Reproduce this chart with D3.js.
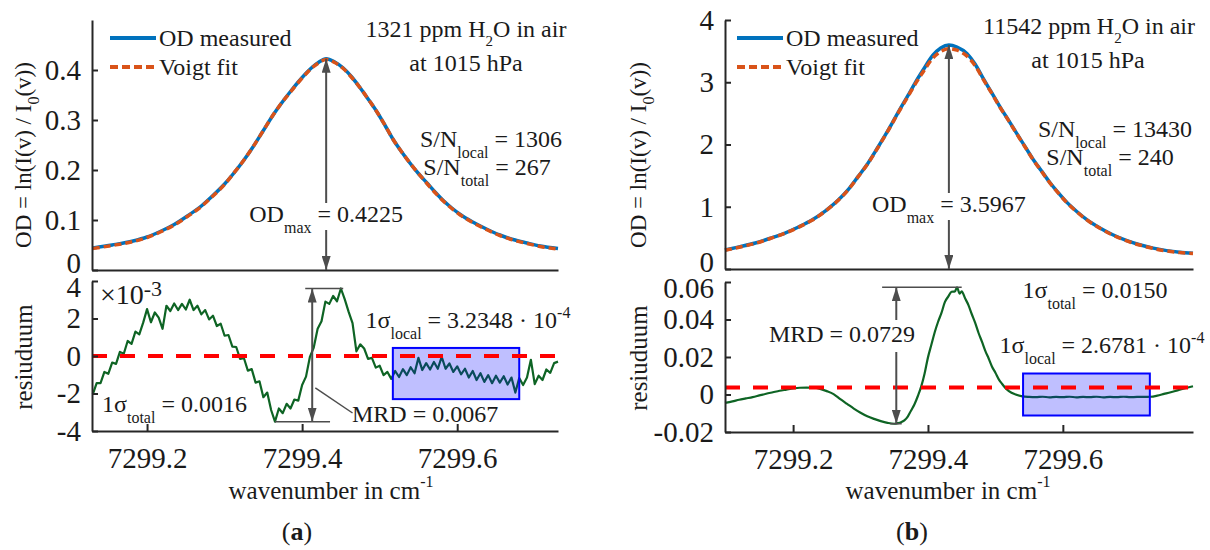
<!DOCTYPE html>
<html>
<head>
<meta charset="utf-8">
<script src="https://cdn.jsdelivr.net/npm/d3@7"></script>
<style>
body { margin: 0; background: #fff; }
svg { display: block; }
svg text { font-family: "Liberation Serif", "Times New Roman", serif; fill: #1a1a1a; white-space: pre; }
</style>
</head>
<body>
<svg id="fig" width="1210" height="550"></svg>
<script>
// ---------- data ----------
var legendLabels = ['OD measured', 'Voigt fit'];
var ticksX = [7299.2, 7299.4, 7299.6];

// (a) 1321 ppm
var odA_wn = [7299.130, 7299.155, 7299.182, 7299.200, 7299.217, 7299.235, 7299.252, 7299.270, 7299.285, 7299.300,
  7299.311, 7299.325, 7299.337, 7299.350, 7299.363, 7299.375, 7299.385, 7299.395, 7299.406, 7299.414,
  7299.421, 7299.431, 7299.442, 7299.453, 7299.464, 7299.475, 7299.486, 7299.497, 7299.507, 7299.517,
  7299.528, 7299.539, 7299.550, 7299.561, 7299.572, 7299.582, 7299.593, 7299.604, 7299.620, 7299.639,
  7299.655, 7299.672, 7299.690, 7299.707, 7299.730];
var odA_measured = [0.044, 0.050, 0.058, 0.066, 0.077, 0.091, 0.108, 0.128, 0.149, 0.172,
  0.192, 0.220, 0.247, 0.279, 0.311, 0.337, 0.357, 0.376, 0.395, 0.407,
  0.415, 0.4225, 0.416, 0.404, 0.386, 0.364, 0.340, 0.315, 0.289, 0.262,
  0.237, 0.214, 0.193, 0.174, 0.155, 0.139, 0.124, 0.111, 0.096, 0.081,
  0.070, 0.061, 0.054, 0.048, 0.043];
var odA_fit = [0.043, 0.049, 0.057, 0.065, 0.076, 0.090, 0.107, 0.127, 0.148, 0.171,
  0.192, 0.220, 0.247, 0.279, 0.311, 0.337, 0.356, 0.375, 0.394, 0.406,
  0.414, 0.421, 0.415, 0.403, 0.385, 0.364, 0.340, 0.315, 0.289, 0.262,
  0.237, 0.214, 0.193, 0.173, 0.154, 0.138, 0.123, 0.110, 0.095, 0.080,
  0.069, 0.060, 0.053, 0.047, 0.042];
var ticksOdA = [0, 0.1, 0.2, 0.3, 0.4];
var resA_wn = [7299.130, 7299.135, 7299.140, 7299.145, 7299.150, 7299.155, 7299.160, 7299.165, 7299.170, 7299.175,
  7299.180, 7299.185, 7299.190, 7299.195, 7299.200, 7299.205, 7299.210, 7299.215, 7299.220, 7299.225,
  7299.230, 7299.235, 7299.240, 7299.245, 7299.250, 7299.255, 7299.260, 7299.265, 7299.270, 7299.275,
  7299.280, 7299.285, 7299.290, 7299.295, 7299.300, 7299.305, 7299.310, 7299.315, 7299.320, 7299.325,
  7299.330, 7299.335, 7299.340, 7299.345, 7299.350, 7299.355, 7299.360, 7299.365, 7299.370, 7299.375,
  7299.380, 7299.385, 7299.390, 7299.395, 7299.400, 7299.405, 7299.410, 7299.415, 7299.420, 7299.425,
  7299.430, 7299.435, 7299.440, 7299.445, 7299.450, 7299.455, 7299.460, 7299.465, 7299.470, 7299.475,
  7299.480, 7299.485, 7299.490, 7299.495, 7299.500, 7299.505, 7299.510, 7299.515, 7299.520, 7299.525,
  7299.530, 7299.535, 7299.540, 7299.545, 7299.550, 7299.555, 7299.560, 7299.565, 7299.570, 7299.575,
  7299.580, 7299.585, 7299.590, 7299.595, 7299.600, 7299.605, 7299.610, 7299.615, 7299.620, 7299.625,
  7299.630, 7299.635, 7299.640, 7299.645, 7299.650, 7299.655, 7299.660, 7299.665, 7299.670, 7299.675,
  7299.680, 7299.685, 7299.690, 7299.695, 7299.700, 7299.705, 7299.710, 7299.715, 7299.720, 7299.725,
  7299.730];
// residuum (a) in units of 1e-3
var resA_e3 = [-2.05, -1.45, -1.45, -0.85, -0.95, -0.35, -0.42, 0.22, 0.12, 0.80,
  0.65, 1.30, 1.15, 1.78, 2.50, 1.80, 2.32, 2.05, 1.45, 2.68,
  2.40, 2.80, 2.45, 2.78, 2.48, 3.00, 2.45, 2.68, 2.22, 2.45,
  1.95, 2.15, 1.60, 1.72, 1.08, 1.12, 0.50, 0.48, -0.15, -0.12,
  -0.78, -0.70, -1.42, -1.35, -2.20, -1.95, -2.88, -3.50, -2.80, -3.05,
  -2.55, -2.80, -2.32, -2.38, -1.55, -1.10, -0.05, 0.45, 1.45, 1.85,
  2.90, 2.78, 3.20, 2.92, 3.60, 3.02, 2.35, 1.75, 0.25, 0.62,
  0.40, -0.15, -0.10, -0.62, -0.52, -1.02, -0.85, -1.22, -0.80, -1.12,
  -0.70, -1.02, -0.60, -0.92, -0.10, -0.75, -0.38, -0.72, -0.32, -0.68,
  -0.05, -0.68, -0.40, -0.85, -0.55, -0.98, -0.68, -1.15, -0.80, -1.28,
  -0.92, -1.38, -1.02, -1.45, -1.05, -1.42, -1.08, -1.52, -1.15, -1.95,
  -1.18, -1.55, -1.15, -0.20, -1.50, -1.05, -1.28, -0.72, -0.90, -0.38,
  -0.30];
var ticksResA = [-4, -2, 0, 2, 4];

// (b) 11542 ppm
var odB_wn = [7299.099, 7299.120, 7299.144, 7299.165, 7299.188, 7299.208, 7299.228, 7299.248, 7299.267, 7299.282,
  7299.296, 7299.311, 7299.326, 7299.341, 7299.356, 7299.370, 7299.381, 7299.393, 7299.407, 7299.419,
  7299.431, 7299.443, 7299.458, 7299.470, 7299.481, 7299.494, 7299.507, 7299.520, 7299.532, 7299.544,
  7299.556, 7299.569, 7299.581, 7299.594, 7299.606, 7299.621, 7299.636, 7299.655, 7299.674, 7299.694,
  7299.714, 7299.734, 7299.754, 7299.773, 7299.793];
var odB_measured = [0.305, 0.355, 0.417, 0.490, 0.578, 0.675, 0.786, 0.935, 1.108, 1.280,
  1.480, 1.700, 1.960, 2.230, 2.520, 2.780, 2.990, 3.200, 3.430, 3.550,
  3.5967, 3.565, 3.460, 3.290, 3.080, 2.840, 2.600, 2.380, 2.170, 1.965,
  1.760, 1.565, 1.385, 1.215, 1.070, 0.920, 0.790, 0.660, 0.550, 0.460,
  0.390, 0.335, 0.295, 0.270, 0.255];
var odB_fit = [0.300, 0.350, 0.412, 0.486, 0.574, 0.671, 0.782, 0.931, 1.104, 1.276,
  1.476, 1.696, 1.955, 2.225, 2.512, 2.765, 2.970, 3.170, 3.385, 3.495,
  3.540, 3.515, 3.420, 3.265, 3.065, 2.832, 2.595, 2.375, 2.165, 1.960,
  1.755, 1.560, 1.380, 1.210, 1.065, 0.915, 0.785, 0.655, 0.545, 0.455,
  0.385, 0.330, 0.290, 0.265, 0.250];
var ticksOdB = [0, 1, 2, 3, 4];
var resB_wn = [7299.099, 7299.11, 7299.12, 7299.13, 7299.14, 7299.15, 7299.16, 7299.17, 7299.18, 7299.19,
  7299.20, 7299.21, 7299.22, 7299.23, 7299.24, 7299.25, 7299.26, 7299.27, 7299.28, 7299.29,
  7299.30, 7299.31, 7299.32, 7299.33, 7299.34, 7299.35, 7299.355, 7299.36, 7299.365, 7299.37,
  7299.375, 7299.38, 7299.385, 7299.39, 7299.395, 7299.40, 7299.405, 7299.41, 7299.415, 7299.42,
  7299.425, 7299.43, 7299.435, 7299.44, 7299.443, 7299.447, 7299.45, 7299.455, 7299.46, 7299.465,
  7299.47, 7299.475, 7299.48, 7299.485, 7299.49, 7299.495, 7299.50, 7299.505, 7299.51, 7299.515,
  7299.52, 7299.53, 7299.54, 7299.55, 7299.56, 7299.57, 7299.58, 7299.59, 7299.60, 7299.61,
  7299.62, 7299.63, 7299.64, 7299.65, 7299.66, 7299.67, 7299.68, 7299.69, 7299.70, 7299.71,
  7299.72, 7299.73, 7299.74, 7299.75, 7299.76, 7299.77, 7299.78, 7299.793];
var resB = [-0.0045, -0.0037, -0.0028, -0.0021, -0.0014, -0.0005, 0.0004, 0.0012, 0.0020, 0.0026,
  0.0032, 0.0036, 0.0037, 0.0036, 0.0030, 0.0018, 0.0002, -0.0025, -0.0050, -0.0075,
  -0.0097, -0.0116, -0.0130, -0.0142, -0.0151, -0.0156, -0.0153, -0.0148, -0.0138, -0.0118,
  -0.0085, -0.0052, -0.0008, 0.0043, 0.0112, 0.0198, 0.0265, 0.0332, 0.0388, 0.0435,
  0.0493, 0.0522, 0.0548, 0.0550, 0.0572, 0.0538, 0.0550, 0.0513, 0.0477, 0.0428,
  0.0382, 0.0328, 0.0282, 0.0233, 0.0192, 0.0148, 0.0116, 0.0081, 0.0056, 0.0034,
  0.0018, 0.0000, -0.0010, -0.0013, -0.0014, -0.0012, -0.0015, -0.0013, -0.0014, -0.0012,
  -0.0015, -0.0013, -0.0014, -0.0012, -0.0015, -0.0013, -0.0014, -0.0012, -0.0014, -0.0013,
  -0.0013, -0.0012, -0.0006, 0.0003, 0.0012, 0.0022, 0.0032, 0.0044];
var ticksResB = [-0.02, 0, 0.02, 0.04, 0.06];

// ---------- drawing ----------
var BLUE = '#0072bd', ORANGE = '#d95319', GREEN = '#0e6424', GREY = '#4d4d4d', AXIS = '#262626';
var svg = d3.select('#fig');

svg.append('defs').append('marker')
    .attr('id', 'head').attr('viewBox', '0 0 14 9').attr('refX', 14).attr('refY', 4.5)
    .attr('markerWidth', 14).attr('markerHeight', 9).attr('markerUnits', 'userSpaceOnUse')
    .attr('orient', 'auto-start-reverse')
  .append('path').attr('d', 'M0,0L14,4.5L0,9Z').attr('fill', GREY);

// text with sub/superscript parts
function rich(x, y, parts, opt) {
    opt = opt || {};
    var t = svg.append('text').attr('x', x).attr('y', y)
        .attr('font-size', opt.size || 24)
        .attr('text-anchor', opt.anchor || 'start');
    if (opt.rotate) t.attr('transform', 'rotate(-90,' + x + ',' + y + ')');
    var shift = 0;
    parts.forEach(function(p) {
        if (typeof p === 'string') p = {t: p};
        var target = p.sub ? (opt.subDy || 11) : p.sup ? -(opt.supDy || 10) : 0;
        var s = t.append('tspan').attr('dy', target - shift).text(p.t);
        if (p.sub || p.sup) s.attr('font-size', opt.small || 16);
        if (p.bold) s.attr('font-weight', 'bold');
        shift = target;
    });
    return t;
}

function styleAxis(a) {
    a.attr('font-family', '"Liberation Serif", "Times New Roman", serif').attr('font-size', 29).attr('color', AXIS);
    a.select('.domain').attr('stroke-width', 2);
    a.selectAll('.tick line').attr('stroke-width', 2);
}

function arrow(x, y1, y2) {
    svg.append('line').attr('x1', x).attr('x2', x).attr('y1', y1).attr('y2', y2)
        .attr('stroke', GREY).attr('stroke-width', 2).attr('marker-end', 'url(#head)');
}
function seg(x1, y1, x2, y2, w) {
    svg.append('line').attr('x1', x1).attr('x2', x2).attr('y1', y1).attr('y2', y2)
        .attr('stroke', GREY).attr('stroke-width', w || 2);
}

var panels = [
  { xDomain: [7299.129, 7299.730], xRange: [92, 558],
    topDomain: [0, 0.5], topRange: [270, 20], botDomain: [-4, 4], botRange: [431, 281],
    wn: odA_wn, measured: odA_measured, fit: odA_fit, topTicks: ticksOdA,
    fmtTop: function(d) { return d === 0 ? '0' : d.toFixed(1); },
    rWn: resA_wn, rVal: resA_e3, botTicks: ticksResA, fmtBot: function(d) { return String(d); },
    resCurve: d3.curveLinear, zero: 0,
    box: [7299.517, 7299.680, 0.43, -2.3],
    mrdWn: 7299.413, capTop: [7299.404, 7299.453], capBot: [7299.365, 7299.436],
    odLabelY: 222, mrdGap: null,
    legendX: 110 },
  { xDomain: [7299.099, 7299.793], xRange: [725, 1193],
    topDomain: [0, 4], topRange: [269, 20], botDomain: [-0.02, 0.06], botRange: [432, 282],
    wn: odB_wn, measured: odB_measured, fit: odB_fit, topTicks: ticksOdB,
    fmtTop: function(d) { return String(d); },
    rWn: resB_wn, rVal: resB, botTicks: ticksResB,
    fmtBot: function(d) { return d === 0 ? '0' : d.toFixed(2); },
    resCurve: d3.curveMonotoneX, zero: 0.0037,
    box: [7299.541, 7299.729, 0.0112, -0.0112],
    mrdWn: 7299.353, capTop: [7299.332, 7299.450], capBot: [7299.344, 7299.361],
    odLabelY: 212, mrdGap: [320, 352],
    legendX: 737 }
];

panels.forEach(function(p) {
    var x = d3.scaleLinear().domain(p.xDomain).range(p.xRange);
    var yT = d3.scaleLinear().domain(p.topDomain).range(p.topRange);
    var yB = d3.scaleLinear().domain(p.botDomain).range(p.botRange);
    p.x = x; p.yT = yT; p.yB = yB;

    // OD curves
    var lineT = d3.line().curve(d3.curveMonotoneX)
        .x(function(d) { return x(d[0]); }).y(function(d) { return yT(d[1]); });
    svg.append('path').attr('d', lineT(p.wn.map(function(w, i) { return [w, p.measured[i]]; })))
        .attr('fill', 'none').attr('stroke', BLUE).attr('stroke-width', 3.5);
    svg.append('path').attr('d', lineT(p.wn.map(function(w, i) { return [w, p.fit[i]]; })))
        .attr('fill', 'none').attr('stroke', ORANGE).attr('stroke-width', 3.5).attr('stroke-dasharray', '7,4');

    // residual
    var lineB = d3.line().curve(p.resCurve)
        .x(function(d) { return x(d[0]); }).y(function(d) { return yB(d[1]); });
    svg.append('path').attr('d', lineB(p.rWn.map(function(w, i) { return [w, p.rVal[i]]; })))
        .attr('fill', 'none').attr('stroke', GREEN).attr('stroke-width', 2.2).attr('stroke-linejoin', 'round');
    svg.append('rect')
        .attr('x', x(p.box[0])).attr('width', x(p.box[1]) - x(p.box[0]))
        .attr('y', yB(p.box[2])).attr('height', yB(p.box[3]) - yB(p.box[2]))
        .attr('fill', '#0000ff').attr('fill-opacity', 0.25).attr('stroke', '#0000ff').attr('stroke-width', 2);
    svg.append('line')
        .attr('x1', x(p.xDomain[0])).attr('x2', x(p.xDomain[1]))
        .attr('y1', yB(p.zero)).attr('y2', yB(p.zero))
        .attr('stroke', '#ff0000').attr('stroke-width', 4).attr('stroke-dasharray', '15,13');

    // axes
    svg.append('g').attr('transform', 'translate(0,' + p.topRange[0] + ')')
        .call(d3.axisBottom(x).tickValues([]).tickSizeOuter(0)).call(styleAxis);
    var aT = svg.append('g').attr('transform', 'translate(' + p.xRange[0] + ',0)')
        .call(d3.axisLeft(yT).tickValues(p.topTicks).tickFormat(p.fmtTop)
            .tickSizeInner(-6).tickSizeOuter(0).tickPadding(11)).call(styleAxis);
    aT.selectAll('.tick').filter(function(d) { return d === 0; }).select('text').attr('y', -7);
    var aB = svg.append('g').attr('transform', 'translate(' + p.xRange[0] + ',0)')
        .call(d3.axisLeft(yB).tickValues(p.botTicks).tickFormat(p.fmtBot)
            .tickSizeInner(-6).tickSizeOuter(0).tickPadding(11)).call(styleAxis);
    var topTick = d3.max(p.botTicks);
    aB.selectAll('.tick').filter(function(d) { return d === topTick; }).select('text').attr('y', 6);
    svg.append('g').attr('transform', 'translate(0,' + p.botRange[0] + ')')
        .call(d3.axisBottom(x).tickValues(ticksX).tickFormat(function(d) { return d.toFixed(1); })
            .tickSizeInner(-7).tickSizeOuter(0).tickPadding(16)).call(styleAxis);

    // legend
    svg.append('line').attr('x1', p.legendX).attr('x2', p.legendX + 46).attr('y1', 38).attr('y2', 38)
        .attr('stroke', BLUE).attr('stroke-width', 4);
    svg.append('line').attr('x1', p.legendX).attr('x2', p.legendX + 46).attr('y1', 67).attr('y2', 67)
        .attr('stroke', ORANGE).attr('stroke-width', 4).attr('stroke-dasharray', '8,4');
    rich(p.legendX + 49, 46, [legendLabels[0]]);
    rich(p.legendX + 49, 75, [legendLabels[1]]);

    // OD_max arrow (peak taken from the measured data)
    var iMax = d3.maxIndex(p.measured);
    var ax = x(p.wn[iMax]);
    arrow(ax, p.odLabelY - 19, yT(p.measured[iMax]));
    arrow(ax, p.odLabelY + 8, yT(0));

    // MRD arrow between residual extremes
    var rMax = d3.max(p.rVal), rMin = d3.min(p.rVal);
    var mx = x(p.mrdWn);
    seg(x(p.capTop[0]), yB(rMax), x(p.capTop[1]), yB(rMax), 1.5);
    seg(x(p.capBot[0]), yB(rMin), x(p.capBot[1]), yB(rMin), 1.5);
    if (p.mrdGap) {
        arrow(mx, p.mrdGap[0], yB(rMax));
        arrow(mx, p.mrdGap[1], yB(rMin));
    } else {
        svg.append('line').attr('x1', mx).attr('x2', mx).attr('y1', yB(rMin)).attr('y2', yB(rMax))
            .attr('stroke', GREY).attr('stroke-width', 2)
            .attr('marker-end', 'url(#head)').attr('marker-start', 'url(#head)');
    }
});

var A = panels[0], B = panels[1];

// panel (a) annotations
rich(466, 37, ['1321 ppm H', {t: '2', sub: 1}, 'O in air'], {anchor: 'middle', subDy: 9, small: 15});
rich(466, 71, ['at 1015 hPa'], {anchor: 'middle'});
rich(491, 147, ['S/N', {t: 'local', sub: 1}, ' = 1306'], {anchor: 'middle'});
rich(487, 175, ['S/N', {t: 'total', sub: 1}, ' = 267'], {anchor: 'middle'});
rich(A.x(A.wn[d3.maxIndex(A.measured)]), A.odLabelY, ['OD', {t: 'max', sub: 1}, ' = 0.4225'], {anchor: 'middle'});
rich(100, 304, ['\u00d710', {t: '-3', sup: 1}], {size: 28, small: 22, supDy: 8});
rich(102, 412, ['1\u03c3', {t: 'total', sub: 1}, ' = 0.0016']);
rich(468, 328, ['1\u03c3', {t: 'local', sub: 1}, ' = 3.2348 \u00b7 10', {t: '-4', sup: 1}], {anchor: 'middle'});
seg(A.x(7299.417), A.yB(-1.7), A.x(7299.465), A.yB(-3.04), 1.5);
rich(352, 422, ['MRD = 0.0067']);
rich(331, 499, ['wavenumber in cm', {t: '-1', sup: 1}], {anchor: 'middle', size: 25, supDy: 12});
rich(31, 155, ['OD = ln(I(v) / I', {t: '0', sub: 1}, '(v))'], {anchor: 'middle', size: 23, rotate: 1, subDy: 8});
rich(32, 357, ['resiuduum'], {anchor: 'middle', size: 25, rotate: 1});
rich(297, 540, ['(', {t: 'a', bold: 1}, ')'], {anchor: 'middle', size: 26});

// panel (b) annotations
rich(1089, 34, ['11542 ppm H', {t: '2', sub: 1}, 'O in air'], {anchor: 'middle', subDy: 9, small: 15});
rich(1088, 68, ['at 1015 hPa'], {anchor: 'middle'});
rich(1115, 137, ['S/N', {t: 'local', sub: 1}, ' = 13430'], {anchor: 'middle'});
rich(1110, 165, ['S/N', {t: 'total', sub: 1}, ' = 240'], {anchor: 'middle'});
rich(B.x(B.wn[d3.maxIndex(B.measured)]), B.odLabelY, ['OD', {t: 'max', sub: 1}, ' = 3.5967'], {anchor: 'middle'});
rich(1095, 298, ['1\u03c3', {t: 'total', sub: 1}, ' = 0.0150'], {anchor: 'middle'});
rich(1102, 353, ['1\u03c3', {t: 'local', sub: 1}, ' = 2.6781 \u00b7 10', {t: '-4', sup: 1}], {anchor: 'middle'});
rich(842, 342, ['MRD = 0.0729'], {anchor: 'middle'});
rich(948, 499, ['wavenumber in cm', {t: '-1', sup: 1}], {anchor: 'middle', size: 25, supDy: 12});
rich(646, 155, ['OD = ln(I(v) / I', {t: '0', sub: 1}, '(v))'], {anchor: 'middle', size: 23, rotate: 1, subDy: 8});
rich(647, 358, ['resiuduum'], {anchor: 'middle', size: 25, rotate: 1});
rich(912, 540, ['(', {t: 'b', bold: 1}, ')'], {anchor: 'middle', size: 26});
</script>
</body>
</html>
